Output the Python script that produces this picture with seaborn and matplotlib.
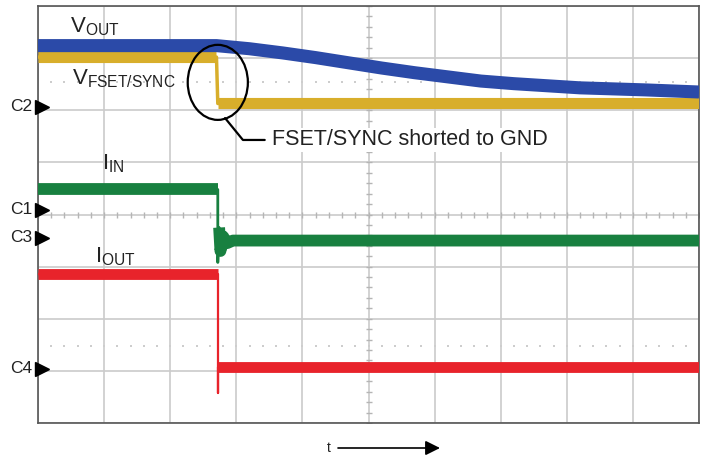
import numpy as np
import seaborn as sns
import matplotlib.pyplot as plt
from matplotlib.patches import Ellipse

# scope screen: time in divisions (10 across), levels in divisions (8 high)
vout_t = [0, 2.7, 3.2, 3.7, 4.2, 4.7, 5.2, 5.7, 6.2, 6.7, 7.2, 7.7, 8.2, 8.7, 9.2, 10]
vout_v = [7.24, 7.24, 7.18, 7.10, 7.01, 6.91, 6.81, 6.72, 6.64, 6.56, 6.51, 6.47, 6.43, 6.41, 6.39, 6.35]

fset_t = [0, 2.70, 2.72, 10]
fset_v = [7.02, 7.02, 6.13, 6.13]

iin_t = [0, 2.72, 2.72, 2.74, 2.76, 2.80, 2.86, 2.95, 10]
iin_v = [4.48, 4.48, 3.08, 3.75, 3.30, 3.58, 3.45, 3.50, 3.50]

iout_t = [0, 2.72, 2.72, 2.72, 10]
iout_v = [2.86, 2.86, 0.58, 1.07, 1.07]

channels = ['C2', 'C1', 'C3', 'C4']
channel_levels = [6.07, 4.09, 3.55, 1.04]
cursor_levels = [6.55, 1.48]

blue = '#2b4aa8'
yellow = '#d8ae2b'
green = '#188040'
red = '#e8232b'
grid_c = '#cbcbcb'

sns.set_theme(style='white')
plt.rcParams['font.family'] = ['Liberation Sans', 'DejaVu Sans']

fig = plt.figure(figsize=(7.05, 4.57), dpi=100)
ax = fig.add_axes([38 / 705, 34 / 457, 661 / 705, 417 / 457])
ax.set_xlim(0, 10)
ax.set_ylim(0, 8)
ax.set_xticks(range(11))
ax.set_yticks(range(9))
ax.grid(True, color=grid_c, lw=1.2)
ax.tick_params(length=0, labelbottom=False, labelleft=False)
for s in ax.spines.values():
    s.set_color('#555555')
    s.set_linewidth(1.2)

# center crosshair ticks
xt = np.arange(0, 10.01, 0.2)
yt = np.arange(0, 8.01, 0.2)
ax.plot(xt, np.full(len(xt), 4), marker='|', ms=5, mew=1, ls='none', color='#b5b5b5', zorder=1)
ax.plot(np.full(len(yt), 5), yt, marker='_', ms=5, mew=1, ls='none', color='#b5b5b5', zorder=1)

# dotted cursor lines
xd = np.arange(0.2, 10, 0.2)
for lvl in cursor_levels:
    ax.plot(xd, np.full(len(xd), lvl), marker='s', ms=1.5, mew=0, ls='none', color='#cdcdcd', zorder=1)


def trace(t, v, color, lw, z=3):
    sns.lineplot(x=t, y=v, estimator=None, sort=False, color=color, lw=lw,
                 solid_capstyle='butt', ax=ax, zorder=z)


# VFSET/SYNC (under VOUT)
trace(fset_t, fset_v, yellow, 2.5)
trace(fset_t[0:2], fset_v[0:2], yellow, 8)
trace(fset_t[2:4], fset_v[2:4], yellow, 8)

# VOUT
trace(vout_t, vout_v, blue, 9.4, z=4)

# IIN
trace(iin_t, iin_v, green, 2.0)
trace(iin_t[0:2], iin_v[0:2], green, 8.5)
trace(iin_t[3:9], iin_v[3:9], green, 8.5)

# IOUT
trace(iout_t, iout_v, red, 1.6)
trace(iout_t[0:2], iout_v[0:2], red, 7.8)
trace(iout_t[3:5], iout_v[3:5], red, 7.8)

ax.set_xlabel('')
ax.set_ylabel('')

# channel markers
for name, lvl in zip(channels, channel_levels):
    ax.plot([0.06], [lvl], marker='>', ms=9.6, color='black', ls='none', clip_on=False, zorder=6)
    ax.text(-0.08, lvl, name, ha='right', va='center', fontsize=12.5, color='#222222', clip_on=False)

# trace labels
lab = dict(fontsize=16, color='#222222', va='baseline', zorder=7)
ax.text(0.48, 7.50, r'$\mathregular{V_{OUT}}$', **lab)
ax.text(0.51, 6.49, r'$\mathregular{V_{FSET/SYNC}}$', **lab)
ax.text(0.97, 4.86, r'$\mathregular{I_{IN}}$', **lab)
ax.text(0.86, 3.09, r'$\mathregular{I_{OUT}}$', **lab)

# callout
ax.add_patch(Ellipse((2.72, 6.535), 0.91, 1.44, fill=False, ec='black', lw=1.6, zorder=8))
ax.plot([2.83, 3.10, 3.43], [5.85, 5.43, 5.43], color='black', lw=1.6, zorder=8)
ax.text(3.54, 5.43, 'FSET/SYNC shorted to GND', fontsize=15.5, color='#222222',
        ha='left', va='center', zorder=8,
        bbox=dict(fc='white', ec='none', pad=1))

# time arrow
fig.text(329 / 705, 1 - 448 / 457, 't', fontsize=10, ha='center', va='center', color='#222222')
ax.annotate('', xy=(440 / 705, 1 - 448 / 457), xytext=(338 / 705, 1 - 448 / 457),
            xycoords='figure fraction', textcoords='figure fraction',
            arrowprops=dict(arrowstyle='-|>', color='black', lw=1.2, mutation_scale=22,
                            shrinkA=0, shrinkB=0))

fig.savefig('out.png', dpi=100)
